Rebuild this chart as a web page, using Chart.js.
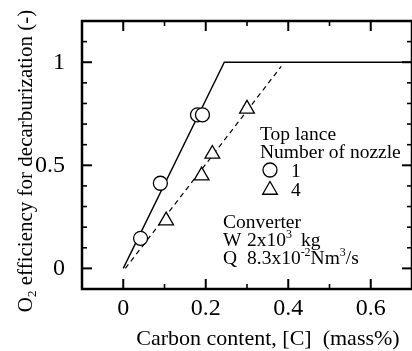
<!DOCTYPE html>
<html>
<head>
<meta charset="utf-8">
<script src="https://cdn.jsdelivr.net/npm/chart.js@4.4.1/dist/chart.umd.min.js"></script>
<style>
  html, body { margin: 0; padding: 0; background: #fff; overflow: hidden; }
  canvas { display: block; }
</style>
</head>
<body>
<canvas id="chart" width="412" height="351"></canvas>
<script>
// values
const nozzle1C = [0.042, 0.09, 0.18, 0.192];
const nozzle1Eff = [0.146, 0.413, 0.745, 0.745];
const nozzle4C = [0.104, 0.19, 0.216, 0.30];
const nozzle4Eff = [0.232, 0.45, 0.555, 0.774];
const solidC = [0, 0.245, 0.7];
const solidEff = [0, 1, 1];
const dashC = [0.005, 0.383];
const dashEff = [0, 0.98];

const xTickVals = [0, 0.2, 0.4, 0.6];
const xMinorVals = [0.1, 0.3, 0.5];
const yTickVals = [0, 0.5, 1];
const yMinorVals = [0.1, 0.2, 0.3, 0.4, 0.6, 0.7, 0.8, 0.9, 1.1];

const serif = '"Liberation Serif", "Times New Roman", serif';
const toXY = (xs, ys) => xs.map((v, i) => ({ x: v, y: ys[i] }));

// draws text pieces one after another, with optional super/subscripts
function drawRuns(ctx, runs, x, y, size) {
  runs.forEach(r => {
    const small = r.sup || r.sub;
    ctx.font = (small ? Math.round(size * 0.6) : size) + 'px ' + serif;
    if (r.at != null) x = r.at;
    const dy = r.sup ? -8 : r.sub ? 4 : 0;
    ctx.fillText(r.t, x, y + dy);
    x += ctx.measureText(r.t).width;
  });
  return x;
}

function runsWidth(ctx, runs, size) {
  let w = 0;
  runs.forEach(r => {
    ctx.font = ((r.sup || r.sub) ? Math.round(size * 0.6) : size) + 'px ' + serif;
    w += ctx.measureText(r.t).width;
  });
  return w;
}

const decorPlugin = {
  id: 'decor',
  afterDraw(chart) {
    const { ctx, chartArea: a, scales: { x, y } } = chart;
    ctx.save();
    ctx.strokeStyle = '#000';
    ctx.fillStyle = '#000';
    const line = (x1, y1, x2, y2, w) => {
      ctx.lineWidth = w;
      ctx.beginPath(); ctx.moveTo(x1, y1); ctx.lineTo(x2, y2); ctx.stroke();
    };

    // inward ticks on all four sides
    xTickVals.forEach(v => {
      const px = x.getPixelForValue(v);
      line(px, a.bottom, px, a.bottom - 10, 2);
      line(px, a.top, px, a.top + 10, 2);
    });
    xMinorVals.forEach(v => {
      const px = x.getPixelForValue(v);
      line(px, a.bottom, px, a.bottom - 5, 1.6);
      line(px, a.top, px, a.top + 5, 1.6);
    });
    yTickVals.forEach(v => {
      const py = y.getPixelForValue(v);
      line(a.left, py, a.left + 10, py, 2);
      line(a.right, py, a.right - 10, py, 2);
    });
    yMinorVals.forEach(v => {
      const py = y.getPixelForValue(v);
      line(a.left, py, a.left + 5, py, 1.6);
      line(a.right, py, a.right - 5, py, 1.6);
    });

    // frame (right edge falls just outside the canvas, as in the figure)
    ctx.lineWidth = 2.5;
    ctx.strokeRect(a.left, a.top, a.right - a.left, a.bottom - a.top);

    // axis titles
    ctx.textBaseline = 'alphabetic';
    ctx.textAlign = 'center';
    ctx.font = '22px ' + serif;
    ctx.fillText('Carbon content, [C]  (mass%)', 268, 345);

    const yTitle = [{ t: 'O' }, { t: '2', sub: true }, { t: ' efficiency for decarburization (-)' }];
    ctx.save();
    ctx.translate(32, 161);
    ctx.rotate(-Math.PI / 2);
    ctx.textAlign = 'left';
    drawRuns(ctx, yTitle, -runsWidth(ctx, yTitle, 21) / 2, 0, 21);
    ctx.restore();

    // legend
    ctx.textAlign = 'left';
    ctx.font = '19.5px ' + serif;
    ctx.fillText('Top lance', 260, 140);
    ctx.fillText('Number of nozzle', 260, 158);
    const ds = chart.data.datasets;
    [[ds[0], 170, '1', 177], [ds[1], 190, '4', 196]].forEach(([d, cy, label, base]) => {
      ctx.fillStyle = '#fff';
      ctx.strokeStyle = '#000';
      ctx.lineWidth = d.borderWidth;
      Chart.helpers.drawPoint(ctx, { pointStyle: d.pointStyle, radius: d.pointRadius, rotation: 0, borderWidth: d.borderWidth }, 270, cy);
      ctx.fillStyle = '#000';
      ctx.font = '19.5px ' + serif;
      ctx.fillText(label, 291, base);
    });

    // converter conditions
    ctx.font = '19.5px ' + serif;
    ctx.fillText('Converter', 223, 228);
    drawRuns(ctx, [{ t: 'W' }, { t: '2x10', at: 247 }, { t: '3', sup: true }, { t: 'kg', at: 301 }], 223, 246, 19.5);
    drawRuns(ctx, [{ t: 'Q' }, { t: '8.3x10', at: 247 }, { t: '-2', sup: true }, { t: 'Nm' }, { t: '3', sup: true }, { t: '/s' }], 223, 264, 19.5);

    ctx.restore();
  }
};

const ctx = document.getElementById('chart').getContext('2d');
const chart = new Chart(ctx, {
  type: 'scatter',
  data: {
    datasets: [
      { label: '1', data: toXY(nozzle1C, nozzle1Eff), pointStyle: 'circle', pointRadius: 7, borderWidth: 1.3,
        borderColor: '#000', backgroundColor: '#fff', order: 1 },
      { label: '4', data: toXY(nozzle4C, nozzle4Eff), pointStyle: 'triangle', pointRadius: 8.5, borderWidth: 1.3,
        borderColor: '#000', backgroundColor: '#fff', order: 1 },
      { label: 'fit 1', data: toXY(solidC, solidEff), showLine: true, pointRadius: 0, borderWidth: 1.4,
        borderColor: '#000', order: 2 },
      { label: 'fit 4', data: toXY(dashC, dashEff), showLine: true, pointRadius: 0, borderWidth: 1.2,
        borderDash: [5, 4], borderColor: '#000', order: 2 }
    ]
  },
  options: {
    responsive: false,
    animation: false,
    events: [],
    layout: { autoPadding: false, padding: { top: 21, right: -3.3, left: 0, bottom: 0 } },
    plugins: { legend: { display: false }, tooltip: { enabled: false } },
    scales: {
      x: {
        type: 'linear', min: -0.1, max: 0.7,
        grid: { display: false }, border: { display: false },
        afterBuildTicks: s => { s.ticks = xTickVals.map(v => ({ value: v })); },
        afterFit: s => { s.height = 62; s.paddingLeft = 0; s.paddingRight = 0; },
        ticks: { color: '#000', font: { family: serif, size: 24 }, padding: -3, maxRotation: 0, callback: v => String(v) }
      },
      y: {
        type: 'linear', min: -0.1, max: 1.2,
        grid: { display: false }, border: { display: false },
        afterBuildTicks: s => { s.ticks = yTickVals.map(v => ({ value: v })); },
        afterFit: s => { s.width = 82; s.paddingTop = 0; s.paddingBottom = 0; },
        ticks: { color: '#000', font: { family: serif, size: 24 }, padding: 9, callback: v => String(v) }
      }
    }
  },
  plugins: [decorPlugin]
});
</script>
</body>
</html>
